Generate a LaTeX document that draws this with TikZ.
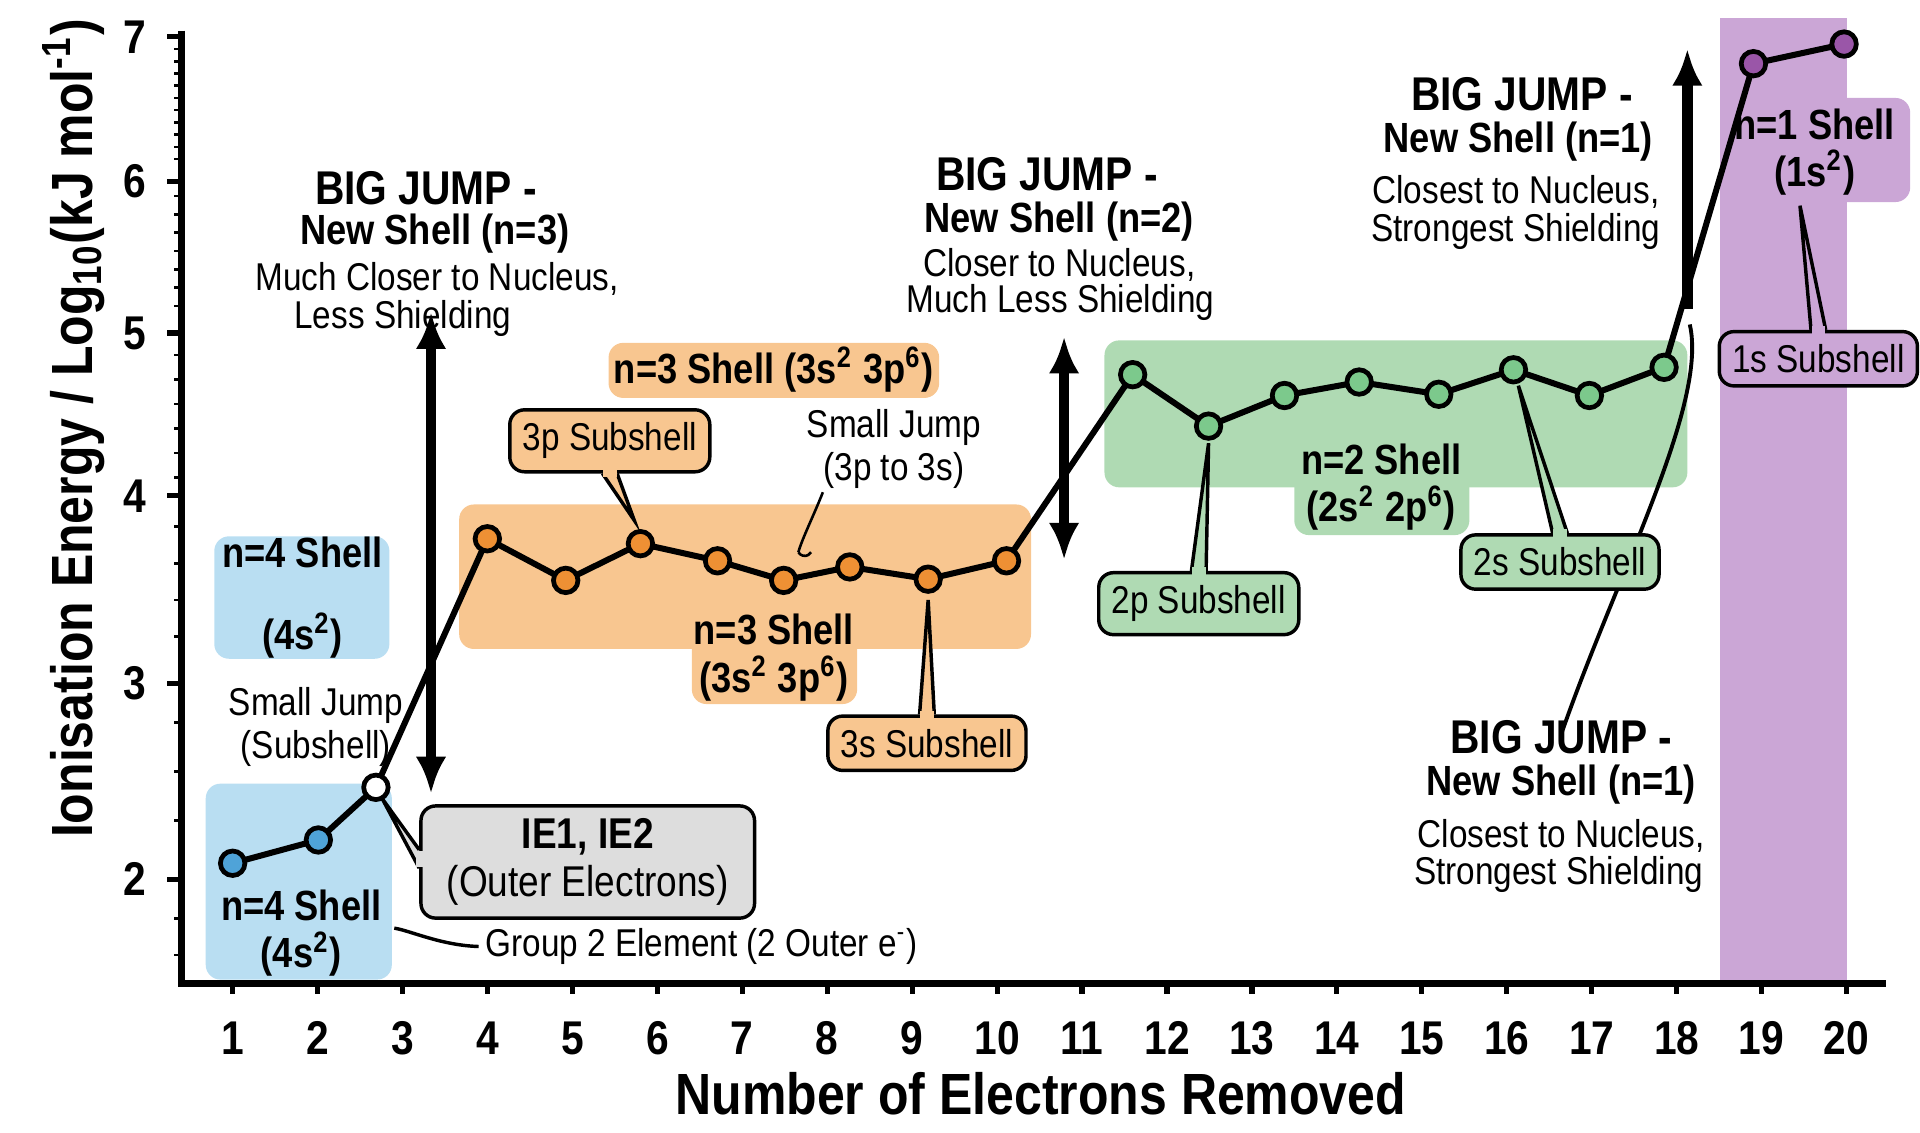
\documentclass[tikz,border=0pt]{standalone}
\usepackage{fontspec}
\setmainfont{Liberation Sans}[FakeStretch=0.86]
\usetikzlibrary{arrows.meta,positioning}
\definecolor{ptblue}{HTML}{4FA3D8}
\definecolor{boxblue}{HTML}{B9DEF2}
\definecolor{ptorange}{HTML}{EE9034}
\definecolor{boxorange}{HTML}{F8C690}
\definecolor{ptgreen}{HTML}{7CC98C}
\definecolor{boxgreen}{HTML}{AFDAB3}
\definecolor{ptpurple}{HTML}{9A56A8}
\definecolor{boxpurple}{HTML}{CBA6D6}
\definecolor{boxgrey}{HTML}{DDDDDD}
\tikzset{
  pt/.style={circle,draw=black,line width=1.1pt,minimum size=0.2cm,inner sep=0pt},
  shade/.style={rounded corners=0.12cm},
  callout/.style={draw=black,line width=0.8pt,rounded corners=0.12cm,font=\fontsize{9}{10}\selectfont,inner sep=3pt},
  bigtxt/.style={font=\bfseries\fontsize{11}{12}\selectfont,inner sep=0pt},
  midtxt/.style={font=\bfseries\fontsize{9.8}{11}\selectfont,inner sep=0pt},
  smalltxt/.style={font=\fontsize{9}{10}\selectfont,inner sep=0pt},
  tick/.style={font=\bfseries\fontsize{11}{12}\selectfont},
  jump/.style={line width=2.4pt,{Latex[length=0.3cm,width=0.25cm]}-{Latex[length=0.3cm,width=0.25cm]}}
}
\begin{document}
\begin{tikzpicture}[x=0.01cm,y=-0.01cm]
	\useasboundingbox (0,0) rectangle (1568,925);
	% Shaded regions
	\fill[boxpurple] (1405,15) rectangle (1508,803);
	\fill[boxpurple,shade] (1405,80) rectangle (1560,165);
	\fill[boxblue,shade] (175,438) rectangle (318,538);
	\fill[boxblue,shade] (168,640) rectangle (320,800);
	\fill[boxorange,shade] (375,412) rectangle (842,530);
	\fill[boxorange,shade] (497,280) rectangle (767,325);
	\fill[boxorange,shade] (565,500) rectangle (700,575);
	\fill[boxgreen,shade] (902,278) rectangle (1378,398);
	\fill[boxgreen,shade] (1057,365) rectangle (1200,437);
	
	% Shell labels
	\node[midtxt,align=center] (s4a) at (247,488) {n=4 Shell\\[8pt](4s\textsuperscript{2})};
	\node[midtxt,align=center] (s4b) at (246,762) {n=4 Shell\\(4s\textsuperscript{2})};
	\node[midtxt] (s3a) at (632,302) {n=3 Shell (3s\textsuperscript{2} 3p\textsuperscript{6})};
	\node[midtxt,align=center] (s3b) at (632,537) {n=3 Shell\\(3s\textsuperscript{2} 3p\textsuperscript{6})};
	\node[midtxt,align=center] (s2) at (1128,398) {n=2 Shell\\(2s\textsuperscript{2} 2p\textsuperscript{6})};
	\node[midtxt,align=center] (s1) at (1482,124) {n=1 Shell\\(1s\textsuperscript{2})};
	
	% Axes
	\draw[line width=1.6pt] (148,25) -- (148,803) -- (1540,803);
	\foreach \v/\yy in {7/30,6/148,5/272,4/405,3/558,2/718}{
		\draw[line width=1.2pt] (148,\yy) -- (136,\yy);
		\node[tick,left] at (132,\yy) {\v};
	}
	\foreach \yy in {40,50,60,70,80,90,100,110,120,130,160,175,190,205,220,235,250,290,310,330,350,370,390,430,460,490,520,590,630,670,750,780}
		\draw[line width=0.6pt] (148,\yy) -- (142,\yy);
	\foreach \i in {1,...,20}{
		\pgfmathsetmacro\xx{190+(\i-1)*69.37}
		\draw[line width=1.2pt] (\xx,803) -- (\xx,812);
		\node[tick] at (\xx,848) {\i};
	}
	\node[font=\bfseries\fontsize{13.5}{15}\selectfont] (xlab) at (850,893) {Number of Electrons Removed};
	\node[font=\bfseries\fontsize{13.5}{15}\selectfont,rotate=90] (ylab) at (60,350) {Ionisation Energy / Log\textsubscript{10}(kJ mol\textsuperscript{-1})};
	
	% Data
	\foreach \n/\xx/\yy in {1/190/705,2/260/686,3/307/643,
		4/398/440,5/462/474,6/523/444,7/586/458,
		8/640/474,9/694/463,10/758/473,11/822/458,
		12/925/306,13/987/348,14/1049/323,15/1110/312,
		16/1175/322,17/1236/302,18/1298/323,19/1359/300,
		20/1432/52,21/1506/36}
		\coordinate (c\n) at (\xx,\yy);
	\draw[line width=1.4pt] (c1) \foreach \n in {2,...,21}{ -- (c\n)};
	\foreach \n/\c in {1/ptblue,2/ptblue,3/white,4/ptorange,5/ptorange,6/ptorange,7/ptorange,
		8/ptorange,9/ptorange,10/ptorange,11/ptorange,12/ptgreen,13/ptgreen,14/ptgreen,
		15/ptgreen,16/ptgreen,17/ptgreen,18/ptgreen,19/ptgreen,20/ptpurple,21/ptpurple}
		\node[pt,fill=\c] (p\n) at (c\n) {};
	
	% Jump arrows
	\coordinate (j1t) at (352,255); \coordinate (j1b) at (352,648);
	\coordinate (j2t) at (869,275); \coordinate (j2b) at (869,457);
	\coordinate (j3b) at (1378,252); \coordinate (j3t) at (1378,40);
	\draw[jump] (j1t) -- (j1b);
	\draw[jump] (j2t) -- (j2b);
	\draw[line width=2.4pt,-{Latex[length=0.3cm,width=0.25cm]}] (j3b) -- (j3t);
	
	% Jump texts
	\node[bigtxt] (b1a) at (348,154) {BIG JUMP -};
	\node[midtxt] (b1b) at (355,191) {New Shell (n=3)};
	\node[smalltxt] (b1c) at (357,228) {Much Closer to Nucleus,};
	\node[smalltxt] (b1d) at (329,260) {Less Shielding};
	\node[bigtxt] (b2a) at (855,142) {BIG JUMP -};
	\node[midtxt] (b2b) at (865,181) {New Shell (n=2)};
	\node[smalltxt] (b2c) at (865,216) {Closer to Nucleus,};
	\node[smalltxt] (b2d) at (866,247) {Much Less Shielding};
	\node[bigtxt] (b3a) at (1243,77) {BIG JUMP -};
	\node[midtxt] (b3b) at (1240,116) {New Shell (n=1)};
	\node[smalltxt] (b3c) at (1238,157) {Closest to Nucleus,};
	\node[smalltxt] (b3d) at (1238,189) {Strongest Shielding};
	\node[bigtxt] (b4a) at (1275,602) {BIG JUMP -};
	\node[midtxt] (b4b) at (1275,641) {New Shell (n=1)};
	\node[smalltxt] (b4c) at (1275,683) {Closest to Nucleus,};
	\node[smalltxt] (b4d) at (1273,714) {Strongest Shielding};
	\coordinate (b4p) at (1380,265);
	\draw[line width=0.9pt] (b4p) .. controls (1395,330) and (1320,470) .. ([yshift=-0.12cm]b4a.north);
	
	% Small jumps
	\node[smalltxt,align=center] (sj1) at (730,367) {Small Jump\\(3p to 3s)};
	\coordinate (sj1p) at (652,451);
	\draw[line width=0.6pt] (sj1p) .. controls (655,440) and (665,420) .. (672,402);
	\draw[line width=0.6pt] (sj1p) arc[start angle=150,end angle=30,radius=6];
	\node[smalltxt,align=center] (sj2) at (258,594) {Small Jump\\(Subshell)};
	\node[smalltxt] (grp) at (573,773) {Group 2 Element (2 Outer e\textsuperscript{-})};
	\draw[line width=0.8pt] ([xshift=-0.05cm]grp.west) .. controls (360,772) and (335,760) .. (322,758);
	
	% Callouts
	\foreach \nm/\xx/\yy/\txt/\col/\tx/\ty/\side in {
		c3p/498/360/3p Subshell/boxorange/518/425/south,
		c3s/757/607/3s Subshell/boxorange/758/490/north,
		c2p/979/493/2p Subshell/boxgreen/987/362/north,
		c2s/1274/459/2s Subshell/boxgreen/1240/315/north,
		c1s/1485/293/1s Subshell/boxpurple/1470/168/north}{
		\node[callout,fill=\col] (\nm) at (\xx,\yy) {\txt};
		\fill[\col,draw=black,line width=0.8pt] ([xshift=-0.06cm]\nm.\side) -- (\tx,\ty) -- ([xshift=0.06cm]\nm.\side);
		\fill[\col] ([xshift=-0.055cm,yshift=-0.03cm]\nm.\side) rectangle ([xshift=0.055cm,yshift=0.03cm]\nm.\side);
	}
	\node[callout,fill=boxgrey,align=center,font=\fontsize{10}{11}\selectfont,inner xsep=6pt] (ie) at (480,704) {\textbf{IE1, IE2}\\(Outer Electrons)};
	\fill[boxgrey,draw=black,line width=0.8pt] ([yshift=0.1cm]ie.west) -- (312,652) -- ([yshift=-0.05cm]ie.west);
	\fill[boxgrey] ([yshift=0.09cm,xshift=-0.03cm]ie.west) rectangle ([yshift=-0.04cm,xshift=0.03cm]ie.west);
\end{tikzpicture}
\end{document}
